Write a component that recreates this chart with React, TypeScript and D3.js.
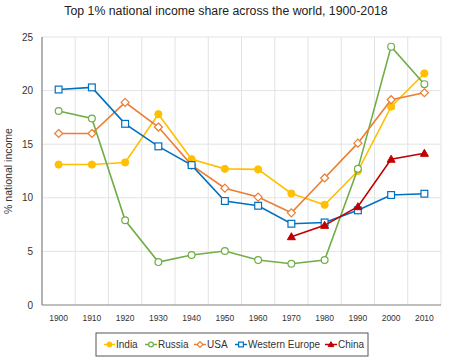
import React from "react";
import * as d3 from "d3";

const years = ["1900", "1910", "1920", "1930", "1940", "1950", "1960", "1970", "1980", "1990", "2000", "2010"];
const india = [13.1, 13.1, 13.3, 17.8, 13.6, 12.7, 12.65, 10.4, 9.35, 12.5, 18.5, 21.6];
const russia = [18.1, 17.4, 7.9, 4.0, 4.66, 5.04, 4.2, 3.85, 4.2, 12.7, 24.1, 20.6];
const usa = [16.0, 16.0, 18.9, 16.6, 13.05, 10.9, 10.07, 8.6, 11.85, 15.1, 19.15, 19.8];
const westernEurope = [20.1, 20.3, 16.9, 14.8, 13.05, 9.7, 9.26, 7.58, 7.7, 8.83, 10.26, 10.38];
const china: (number | null)[] = [null, null, null, null, null, null, null, 6.37, 7.43, 9.17, 13.6, 14.15];
const yTicks = [0, 5, 10, 15, 20, 25];

const series = [
  { name: "India", values: india, color: "#FFC000", marker: "circleFilled" },
  { name: "Russia", values: russia, color: "#70AD47", marker: "circle" },
  { name: "USA", values: usa, color: "#ED7D31", marker: "diamond" },
  { name: "Western Europe", values: westernEurope, color: "#0070C0", marker: "square" },
  { name: "China", values: china, color: "#C00000", marker: "triangle" },
];

const W = 454;
const H = 362;
const margin = { top: 37, right: 13, bottom: 57, left: 42 };

function Marker({ type, color, x, y, s = 1 }: { type: string; color: string; x: number; y: number; s?: number }) {
  if (type === "circleFilled") return <circle cx={x} cy={y} r={3.6 * s} fill={color} stroke={color} strokeWidth={1} />;
  if (type === "circle") return <circle cx={x} cy={y} r={3.4 * s} fill="#fff" stroke={color} strokeWidth={1.2} />;
  if (type === "diamond") {
    const r = 4 * s;
    return <path d={`M${x},${y - r}L${x + r},${y}L${x},${y + r}L${x - r},${y}Z`} fill="#fff" stroke={color} strokeWidth={1.2} />;
  }
  if (type === "square") {
    const r = 3.4 * s;
    return <rect x={x - r} y={y - r} width={2 * r} height={2 * r} fill="#fff" stroke={color} strokeWidth={1.2} />;
  }
  const r = 4 * s;
  return <path d={`M${x},${y - r}L${x + r},${y + r * 0.75}L${x - r},${y + r * 0.75}Z`} fill={color} stroke={color} strokeWidth={1} />;
}

export default function App() {
  const x = d3.scaleBand().domain(years).range([margin.left, W - margin.right]);
  const y = d3.scaleLinear().domain([0, 25]).range([H - margin.bottom, margin.top]);
  const cx = (d: string) => (x(d) as number) + x.bandwidth() / 2;
  const line = d3
    .line<[string, number | null]>()
    .defined((d) => d[1] !== null)
    .x((d) => cx(d[0]))
    .y((d) => y(d[1] as number));

  const legendItems = [
    { x0: 104, tx: 116 },
    { x0: 145, tx: 158 },
    { x0: 194, tx: 207 },
    { x0: 235, tx: 248 },
    { x0: 325, tx: 338 },
  ];

  return (
    <svg width={W} height={H} style={{ position: "absolute", left: 0, top: 0, fontFamily: "Liberation Sans, Arial, sans-serif" }}>
      <rect width={W} height={H} fill="#fff" />
      <text x={226} y={15} textAnchor="middle" fontSize={12.3} fill="#222">
        Top 1% national income share across the world, 1900-2018
      </text>
      {/* grid */}
      {yTicks.filter((t) => t > 0).map((t) => (
        <line key={t} x1={margin.left} x2={W - margin.right} y1={y(t)} y2={y(t)} stroke="#e3e3e3" />
      ))}
      {years.map((yr, i) => (
        <line key={yr} x1={(x(yr) as number) + x.bandwidth()} x2={(x(yr) as number) + x.bandwidth()} y1={y(25)} y2={y(0)} stroke="#e3e3e3" />
      ))}
      {/* axes */}
      <line x1={margin.left} x2={margin.left} y1={y(25)} y2={y(0)} stroke="#808080" strokeWidth={1.2} />
      <line x1={margin.left} x2={W - margin.right} y1={y(0)} y2={y(0)} stroke="#808080" strokeWidth={1.2} />
      {yTicks.map((t) => (
        <text key={t} x={33} y={y(t) + 3.5} textAnchor="end" fontSize={10} fill="#333">
          {t}
        </text>
      ))}
      {years.map((yr) => (
        <text key={yr} x={cx(yr)} y={y(0) + 16} textAnchor="middle" fontSize={8.5} fill="#333">
          {yr}
        </text>
      ))}
      <text transform={`translate(12,${(y(0) + y(25)) / 2}) rotate(-90)`} textAnchor="middle" fontSize={10.5} fill="#333">
        % national income
      </text>
      {/* series */}
      {series.map((s) => (
        <g key={s.name}>
          <path d={line(years.map((yr, i) => [yr, s.values[i]]) as [string, number | null][]) || ""} fill="none" stroke={s.color} strokeWidth={1.6} />
          {years.map((yr, i) =>
            s.values[i] === null ? null : <Marker key={yr} type={s.marker} color={s.color} x={cx(yr)} y={y(s.values[i] as number)} />
          )}
        </g>
      ))}
      {/* legend */}
      <rect x={96} y={333} width={272} height={23} fill="#fff" stroke="#555" strokeWidth={1} />
      {series.map((s, i) => (
        <g key={s.name}>
          <line x1={legendItems[i].x0} x2={legendItems[i].tx - 1} y1={344.5} y2={344.5} stroke={s.color} strokeWidth={1.5} />
          <Marker type={s.marker} color={s.color} x={(legendItems[i].x0 + legendItems[i].tx - 1) / 2} y={344.5} s={0.7} />
          <text x={legendItems[i].tx} y={348} fontSize={10} fill="#333">
            {s.name}
          </text>
        </g>
      ))}
    </svg>
  );
}
